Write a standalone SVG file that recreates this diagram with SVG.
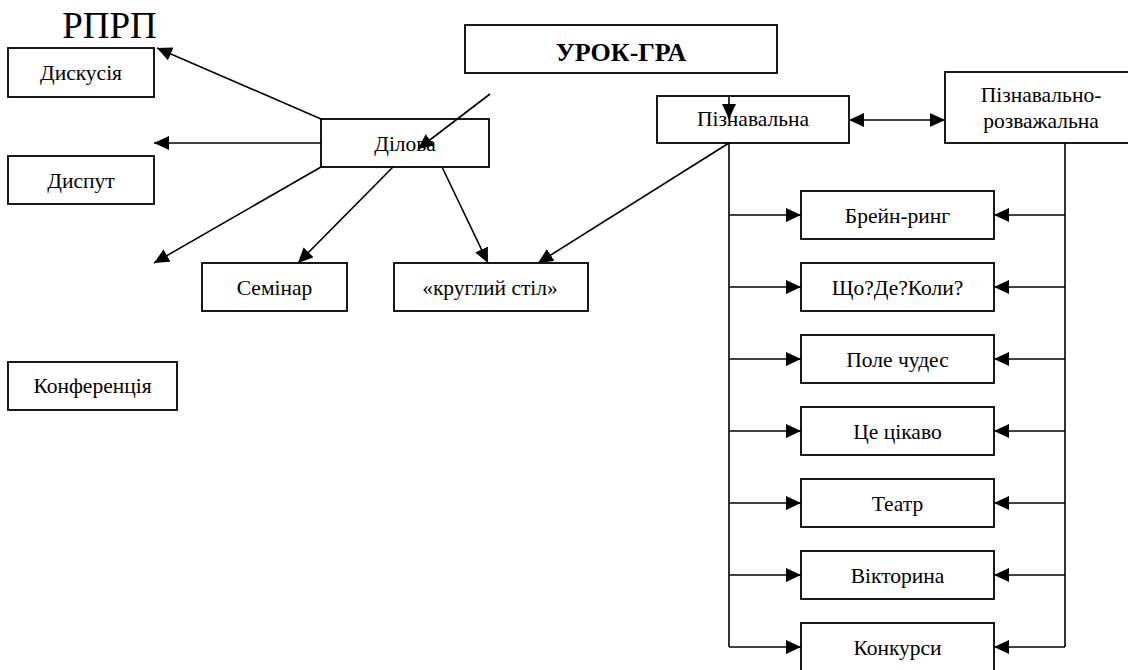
<svg xmlns="http://www.w3.org/2000/svg" width="1128" height="670" viewBox="0 0 1128 670">
<style>
  .box { fill: #ffffff; stroke: #000000; stroke-width: 1.8; }
  text { font-family: 'Liberation Serif', 'DejaVu Serif', serif; fill: #000000; text-anchor: middle; }
  .t { font-size: 21.5px; }
  .title { font-size: 26px; font-weight: bold; }
  .big { font-size: 37px; }
  .ln { fill: none; stroke: #000000; stroke-width: 1.6; }
  .arr { fill: none; stroke: #000000; stroke-width: 1.6; marker-end: url(#ah); }
</style>
<defs>
  <marker id="ah" markerUnits="userSpaceOnUse" markerWidth="16" markerHeight="14" refX="15" refY="7" orient="auto-start-reverse">
    <path d="M0,0 L15,7 L0,14 z" fill="#000000"/>
  </marker>
</defs>
<rect width="1128" height="670" fill="#ffffff"/>

<g id="rprp"><text class="big" x="109.5" y="38" font-family="Liberation Serif, serif">РПРП</text></g>

<g id="node-dyskusiia"><rect class="box" x="8" y="48" width="146" height="49"/><text class="t" x="81" y="80">Дискусія</text></g>
<g id="node-dysput"><rect class="box" x="8" y="156" width="146" height="48"/><text class="t" x="81" y="188">Диспут</text></g>
<g id="node-konferentsiia"><rect class="box" x="8" y="362" width="169" height="48"/><text class="t" x="92.5" y="393">Конференція</text></g>
<g id="node-dilova"><rect class="box" x="321" y="119" width="168" height="48"/><text class="t" x="405" y="151">Ділова</text></g>
<g id="node-seminar"><rect class="box" x="202" y="263" width="145" height="48"/><text class="t" x="274.5" y="295">Семінар</text></g>
<g id="node-kruhlyi"><rect class="box" x="394" y="263" width="194" height="48"/><text class="t" x="490" y="295">«круглий стіл»</text></g>
<g id="node-urok"><rect class="box" x="465" y="25" width="312" height="48"/><text class="title" x="621" y="61">УРОК-ГРА</text></g>
<g id="node-piznavalna"><rect class="box" x="657" y="96" width="192" height="47"/><text class="t" x="753" y="126">Пізнавальна</text></g>
<g id="node-piznrozv"><rect class="box" x="945" y="72" width="192" height="71"/><text class="t" x="1041" y="102">Пізнавально-</text><text class="t" x="1041" y="128">розважальна</text></g>

<g id="node-brein"><rect class="box" x="801" y="191" width="193" height="48"/><text class="t" x="897.5" y="223">Брейн-ринг</text></g>
<g id="node-shcho"><rect class="box" x="801" y="263" width="193" height="48"/><text class="t" x="897.5" y="295">Що?Де?Коли?</text></g>
<g id="node-pole"><rect class="box" x="801" y="335" width="193" height="48"/><text class="t" x="897.5" y="367">Поле чудес</text></g>
<g id="node-tse"><rect class="box" x="801" y="407" width="193" height="48"/><text class="t" x="897.5" y="439">Це цікаво</text></g>
<g id="node-teatr"><rect class="box" x="801" y="479" width="193" height="48"/><text class="t" x="897.5" y="511">Театр</text></g>
<g id="node-viktoryna"><rect class="box" x="801" y="551" width="193" height="48"/><text class="t" x="897.5" y="583">Вікторина</text></g>
<g id="node-konkursy"><rect class="box" x="801" y="623" width="193" height="60"/><text class="t" x="897.5" y="655">Конкурси</text></g>

<g id="connectors">
  <line class="arr" x1="321" y1="119" x2="157" y2="48"/>
  <line class="arr" x1="321" y1="143" x2="154" y2="143"/>
  <line class="arr" x1="321" y1="167" x2="154" y2="263"/>
  <line class="arr" x1="393" y1="167" x2="298" y2="263"/>
  <line class="arr" x1="442" y1="167" x2="488" y2="263"/>
  <line class="arr" x1="729" y1="143" x2="538" y2="263"/>
  <line class="arr" x1="490" y1="94" x2="418" y2="149"/>
  <line class="arr" x1="729" y1="96" x2="729" y2="119"/>
  <line class="arr" x1="849" y1="120" x2="945" y2="120" marker-start="url(#ah)"/>
  <line class="ln" x1="729" y1="143" x2="729" y2="647"/>
  <line class="ln" x1="1065" y1="143" x2="1065" y2="647"/>
  <line class="arr" x1="729" y1="215" x2="801" y2="215"/>
  <line class="arr" x1="729" y1="287" x2="801" y2="287"/>
  <line class="arr" x1="729" y1="359" x2="801" y2="359"/>
  <line class="arr" x1="729" y1="431" x2="801" y2="431"/>
  <line class="arr" x1="729" y1="503" x2="801" y2="503"/>
  <line class="arr" x1="729" y1="575" x2="801" y2="575"/>
  <line class="arr" x1="729" y1="647" x2="801" y2="647"/>
  <line class="arr" x1="1065" y1="215" x2="994" y2="215"/>
  <line class="arr" x1="1065" y1="287" x2="994" y2="287"/>
  <line class="arr" x1="1065" y1="359" x2="994" y2="359"/>
  <line class="arr" x1="1065" y1="431" x2="994" y2="431"/>
  <line class="arr" x1="1065" y1="503" x2="994" y2="503"/>
  <line class="arr" x1="1065" y1="575" x2="994" y2="575"/>
  <line class="arr" x1="1065" y1="647" x2="994" y2="647"/>
</g>
</svg>
